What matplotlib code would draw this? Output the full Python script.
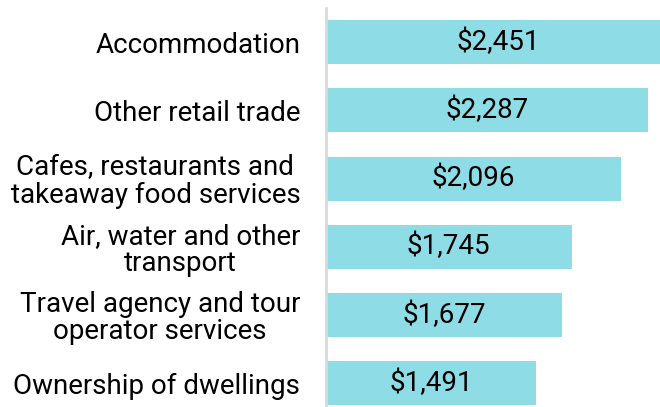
import matplotlib
matplotlib.use("Agg")
import matplotlib.pyplot as plt

categories = ["Accommodation", "Other retail trade",
              "Cafes, restaurants and\ntakeaway food services",
              "Air, water and other\ntransport",
              "Travel agency and tour\noperator services",
              "Ownership of dwellings"]
values = [2451, 2287, 2096, 1745, 1677, 1491]
value_labels = ["$2,451", "$2,287", "$2,096", "$1,745", "$1,677", "$1,491"]

plt.rcParams['font.family'] = ['Roboto', 'DejaVu Sans']

W, H = 660, 407
fig = plt.figure(figsize=(W/100, H/100), dpi=100)
ax = fig.add_axes([326/W, 0, 1 - 326/W, 1 - 8/H])

y = list(range(len(categories)))
ax.barh(y, values, height=0.645, color="#8EDCE5", zorder=2)
for yi, v, lab in zip(y, values, value_labels):
    ax.text(v/2, yi, lab, ha="center", va="center", fontsize=20, color="black", zorder=3)

ax.set_xlim(0, 2374)
ax.set_ylim(5.35, -0.5)
ax.set_yticks(y)
ax.set_yticklabels(categories, fontsize=20, multialignment="center", linespacing=1.0)
ax.tick_params(axis="y", length=0, pad=18.5)
ax.set_xticks([])
for s in ["top", "right", "bottom"]:
    ax.spines[s].set_visible(False)
ax.spines["left"].set_color("#d9d9d9")
ax.spines["left"].set_linewidth(2)

fig.savefig("out.png", dpi=100)
